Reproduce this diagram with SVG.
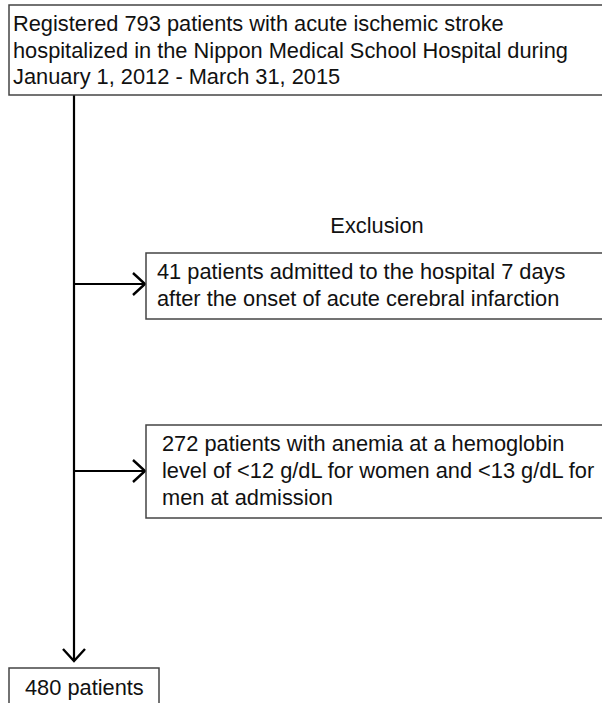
<svg xmlns="http://www.w3.org/2000/svg" width="602" height="703" viewBox="0 0 602 703">
<style>
.box{fill:#fff;stroke:#444;stroke-width:1.5}
.t{font-family:"Liberation Sans",Arial,sans-serif;font-size:21.8px;fill:#111}
.c{stroke:#000;stroke-width:2.2;fill:none}
</style>
<defs>
<marker id="ah" markerWidth="16" markerHeight="26" refX="13" refY="12" orient="auto" markerUnits="userSpaceOnUse">
<path d="M1,1 L13,12 L1,23" fill="none" stroke="#000" stroke-width="2.4"/>
</marker>
</defs>
<rect width="602" height="703" fill="#fff"/>
<g id="connectors">
<line class="c" x1="74" y1="95" x2="74" y2="661" marker-end="url(#ah)"/>
<line class="c" x1="74" y1="284" x2="145" y2="284" marker-end="url(#ah)"/>
<line class="c" x1="74" y1="471" x2="145" y2="471" marker-end="url(#ah)"/>
</g>
<g id="registered">
<rect class="box" x="9" y="5" width="600" height="90"/>
<text class="t" x="13" y="31">Registered 793 patients with acute ischemic stroke</text>
<text class="t" x="13" y="58">hospitalized in the Nippon Medical School Hospital during</text>
<text class="t" x="13" y="84">January 1, 2012 - March 31, 2015</text>
</g>
<g id="exclusion-label">
<text class="t" x="377" y="233" text-anchor="middle">Exclusion</text>
</g>
<g id="excl1">
<rect class="box" x="146" y="253" width="460" height="66"/>
<text class="t" x="157" y="279">41 patients admitted to the hospital 7 days</text>
<text class="t" x="157" y="306">after the onset of acute cerebral infarction</text>
</g>
<g id="excl2">
<rect class="box" x="146" y="425" width="460" height="93"/>
<text class="t" x="162" y="451">272 patients with anemia at a hemoglobin</text>
<text class="t" x="162" y="478">level of &lt;12 g/dL for women and &lt;13 g/dL for</text>
<text class="t" x="162" y="505">men at admission</text>
</g>
<g id="final">
<rect class="box" x="9" y="668" width="150" height="40"/>
<text class="t" x="25" y="695">480 patients</text>
</g>
</svg>
